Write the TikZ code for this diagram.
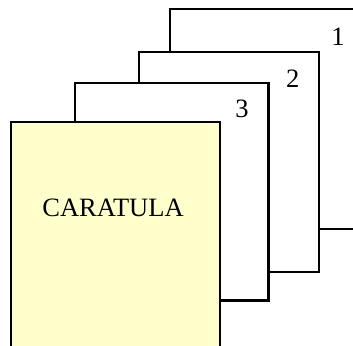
\documentclass[tikz,border=0pt]{standalone}
\usepackage{fontspec}
\setmainfont{Liberation Serif}
\definecolor{paleyellow}{HTML}{FFFFCC}
\begin{document}
\begin{tikzpicture}[x=1pt,y=-1pt,
  sheet/.style={draw=black,line width=2.2pt,fill=white},
  label/.style={inner sep=0pt,font=\fontsize{26.5}{30}\selectfont}]
\useasboundingbox (0,0) rectangle (353,345);
\clip (0,0) rectangle (353,345);
\draw[sheet] (170,9) rectangle (365,229);
\draw[sheet] (139,52) rectangle (319,272);
\draw[sheet] (75,83) rectangle (268.5,300.5);
\draw[sheet,fill=paleyellow] (11.3,122) rectangle (220.3,360);
\node[label] (n1) at (338,36.7) {1};
\node[label] (n2) at (292.7,79) {2};
\node[label] (n3) at (242,109) {3};
\node[label] (car) at (113,208) {CARATULA};
\end{tikzpicture}
\end{document}
